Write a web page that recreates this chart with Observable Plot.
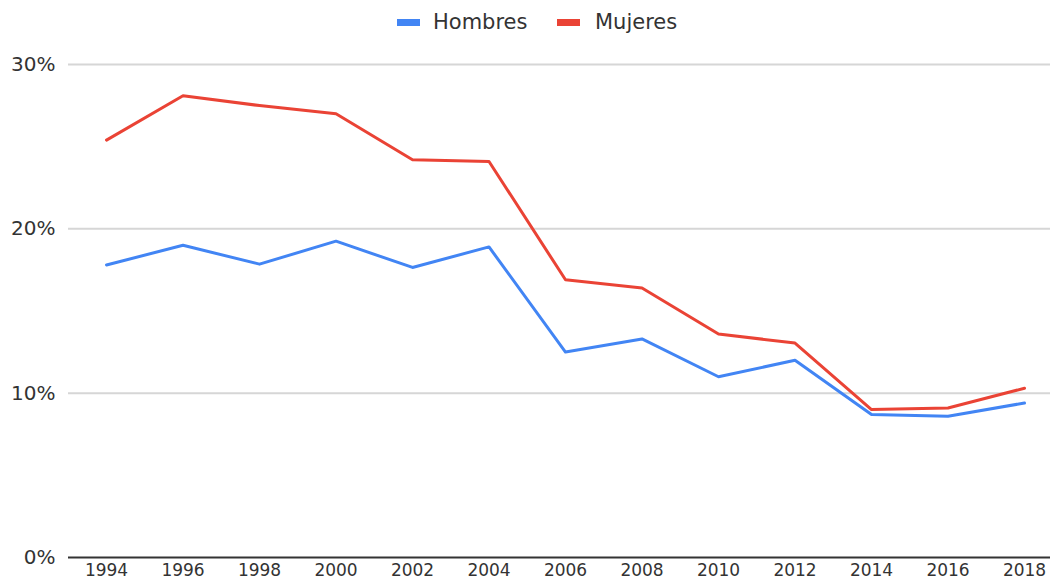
<!DOCTYPE html>
<html>
<head>
<meta charset="utf-8">
<script src="https://cdn.jsdelivr.net/npm/d3@7"></script>
<script src="https://cdn.jsdelivr.net/npm/@observablehq/plot@0.6"></script>
<style>
  html, body { margin: 0; padding: 0; background: #fff; }
  #legend { position: relative; height: 45px; width: 1053px; font-family: "DejaVu Sans", sans-serif; font-size: 21px; color: #333; }
  .sw { position: absolute; top: 19px; width: 23px; height: 7px; }
  .lb { position: absolute; top: 9px; line-height: 26px; }
  #chart svg { display: block; }
</style>
</head>
<body>
<div id="legend"></div>
<div id="chart"></div>
<script>
const years = [1994, 1996, 1998, 2000, 2002, 2004, 2006, 2008, 2010, 2012, 2014, 2016, 2018];
const hombres = [17.8, 19.0, 17.85, 19.25, 17.65, 18.9, 12.5, 13.3, 11.0, 12.0, 8.7, 8.6, 9.4];
const mujeres = [25.4, 28.1, 27.5, 27.0, 24.2, 24.1, 16.9, 16.4, 13.6, 13.05, 9.0, 9.1, 10.3];
const seriesNames = ["Hombres", "Mujeres"];
const seriesColors = ["#4285F4", "#EA4335"];
const yTicks = [0, 10, 20, 30];

const data = [
  ...years.map((year, i) => ({year, value: hombres[i], series: seriesNames[0]})),
  ...years.map((year, i) => ({year, value: mujeres[i], series: seriesNames[1]}))
];

// Legend
const legend = document.getElementById("legend");
const legendPos = [[397, 433], [557, 595]];
seriesNames.forEach((name, i) => {
  const sw = document.createElement("div");
  sw.className = "sw";
  sw.style.left = legendPos[i][0] + "px";
  sw.style.background = seriesColors[i];
  legend.appendChild(sw);
  const lb = document.createElement("div");
  lb.className = "lb";
  lb.style.left = legendPos[i][1] + "px";
  lb.textContent = name;
  legend.appendChild(lb);
});

const chart = Plot.plot({
  width: 1053,
  height: 536,
  marginLeft: 68,
  marginRight: 3,
  marginTop: 19,
  marginBottom: 24,
  style: {fontFamily: "DejaVu Sans, sans-serif", color: "#333", background: "white", overflow: "visible"},
  x: {domain: [1994, 2018], range: [106, 1024]},
  y: {domain: [0, 30]},
  color: {domain: seriesNames, range: seriesColors},
  marks: [
    Plot.ruleY(yTicks.filter(d => d > 0), {stroke: "#d6d6d6", strokeWidth: 2, strokeOpacity: 1}),
    Plot.ruleY([0], {stroke: "#333", strokeWidth: 2, strokeOpacity: 1}),
    Plot.lineY(data, {x: "year", y: "value", stroke: "series", z: "series", strokeWidth: 3}),
    Plot.axisX({ticks: years, tickSize: 0, tickPadding: 6, tickFormat: d => String(d), fontSize: 17, label: null}),
    Plot.axisY({ticks: yTicks, tickSize: 0, tickPadding: 13, tickFormat: d => d + "%", fontSize: 20, label: null})
  ]
});
document.getElementById("chart").appendChild(chart);
</script>
</body>
</html>
